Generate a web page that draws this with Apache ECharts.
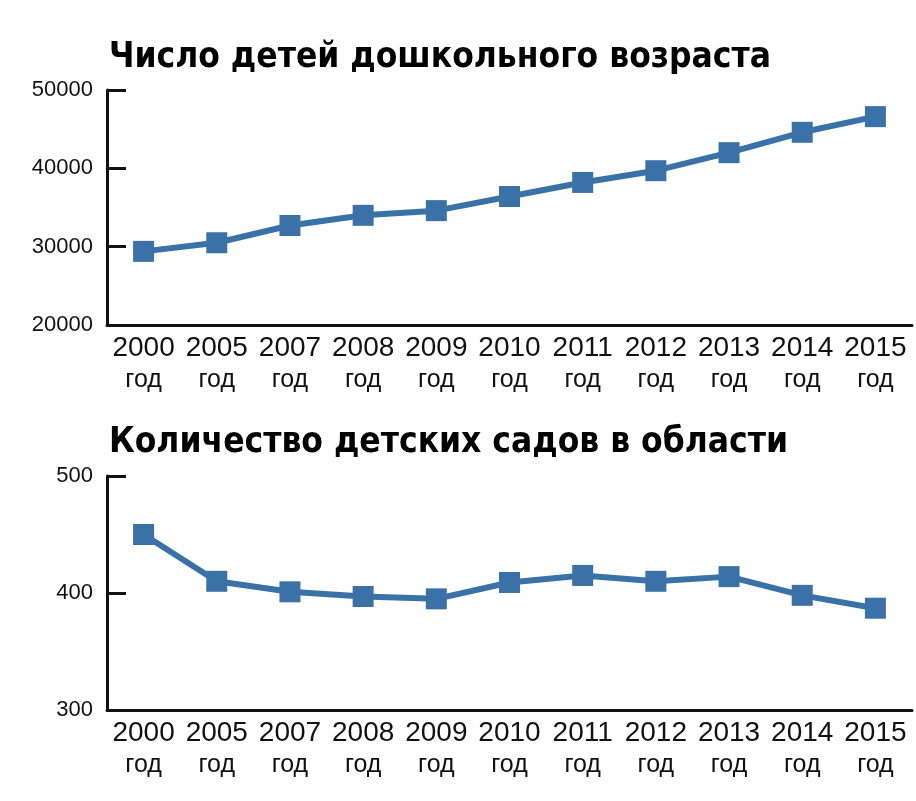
<!DOCTYPE html>
<html>
<head>
<meta charset="utf-8">
<script src="https://cdn.jsdelivr.net/npm/echarts@6/dist/echarts.min.js"></script>
<style>
  html, body { margin: 0; padding: 0; background: #fff; }
  #chart { width: 916px; height: 801px; }
</style>
</head>
<body>
<div id="chart"></div>
<script>
const years = ['2000', '2005', '2007', '2008', '2009', '2010', '2011', '2012', '2013', '2014', '2015']
const children = [29400, 30500, 32700, 34000, 34600, 36400, 38200, 39700, 42000, 44600, 46600]
const kindergartens = [450, 410, 401, 397, 395, 409, 415, 410, 414, 398, 387]

const topTicks = { min: 20000, max: 50000, interval: 10000 }
const bottomTicks = { min: 300, max: 500, interval: 100 }

const titles = ['Число детей дошкольного возраста', 'Количество детских садов в области']

const blue = '#3a72a8'
const axisColor = '#111'
const titleFont = "'DejaVu Sans Condensed', 'DejaVu Sans', sans-serif"

function xAxisFor(gridIndex) {
  return {
    type: 'category',
    gridIndex,
    data: years,
    boundaryGap: true,
    axisLine: { lineStyle: { color: axisColor, width: 3 } },
    axisTick: { inside: true, length: 7, lineStyle: { color: axisColor, width: 3 } },
    axisLabel: {
      interval: 0,
      margin: 8,
      formatter: v => '{y|' + v + '}\n{g|год}',
      rich: {
        y: { fontSize: 28, fontFamily: 'Liberation Sans', color: '#111', lineHeight: 31 },
        g: { fontSize: 25, fontFamily: 'Liberation Sans', color: '#111', lineHeight: 33 }
      }
    },
    splitLine: { show: false }
  }
}

function yAxisFor(gridIndex, ticks) {
  return {
    type: 'value',
    gridIndex,
    min: ticks.min,
    max: ticks.max,
    interval: ticks.interval,
    axisLine: { show: true, lineStyle: { color: axisColor, width: 3 } },
    axisTick: { show: true, inside: true, length: 19, lineStyle: { color: axisColor, width: 3 } },
    axisLabel: {
      margin: 14, fontSize: 22, fontFamily: 'Liberation Sans', color: '#111',
      formatter: v => String(v)
    },
    splitLine: { show: false }
  }
}

function seriesFor(index, data) {
  return {
    type: 'line',
    xAxisIndex: index,
    yAxisIndex: index,
    data,
    symbol: 'rect',
    symbolSize: 21,
    lineStyle: { color: blue, width: 6 },
    itemStyle: { color: blue },
    animation: false
  }
}

const chart = echarts.init(document.getElementById('chart'), null, { renderer: 'canvas' })
chart.setOption({
  backgroundColor: '#fff',
  title: [
    {
      text: titles[0], left: 104, top: 35,
      textStyle: { fontFamily: titleFont, fontWeight: 'bold', fontSize: 35, color: '#000' }
    },
    {
      text: titles[1], left: 104, top: 420,
      textStyle: { fontFamily: titleFont, fontWeight: 'bold', fontSize: 35, color: '#000' }
    }
  ],
  grid: [
    { left: 107, right: 4, top: 90, height: 235 },
    { left: 107, right: 4, top: 476, height: 234 }
  ],
  xAxis: [xAxisFor(0), xAxisFor(1)],
  yAxis: [yAxisFor(0, topTicks), yAxisFor(1, bottomTicks)],
  series: [seriesFor(0, children), seriesFor(1, kindergartens)]
})
</script>
</body>
</html>
